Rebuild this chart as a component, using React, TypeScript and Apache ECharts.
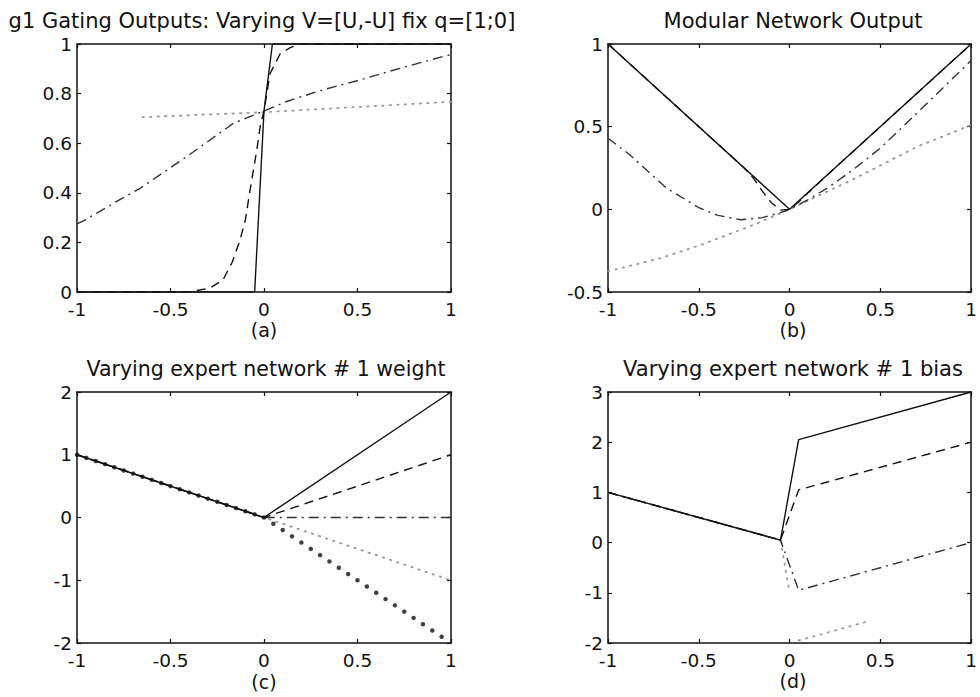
import React, { useEffect, useRef } from "react";
import * as echarts from "echarts";

// ---------- data ----------
const X_RANGE = { min: -1, max: 1, interval: 0.5 };
const Y_RANGES = [
  { min: 0, max: 1, interval: 0.2 },
  { min: -0.5, max: 1, interval: 0.5 },
  { min: -2, max: 2, interval: 1 },
  { min: -2, max: 3, interval: 1 },
];
const TITLES = [
  "g1 Gating Outputs: Varying V=[U,-U] fix q=[1;0]",
  "Modular Network Output",
  "Varying expert network # 1 weight",
  "Varying expert network # 1 bias",
];
const SUB_LABELS = ["(a)", "(b)", "(c)", "(d)"];

// (a) gating outputs
const aSolid = [[-1, 0], [-0.05, 0], [0, 0.73], [0.045, 1], [1, 1]];
const aDashed = [
  [-1, 0], [-0.4, 0], [-0.29, 0.016], [-0.22, 0.048], [-0.17, 0.12], [-0.128, 0.21],
  [-0.1, 0.29], [-0.066, 0.45], [-0.039, 0.57], [-0.02, 0.67], [0, 0.73], [0.032, 0.88],
  [0.086, 0.96], [0.14, 0.985], [0.19, 1.0], [1, 1],
];
const aDashDot = [
  [-1, 0.275], [-0.957, 0.29], [-0.8, 0.36], [-0.663, 0.418], [-0.413, 0.546],
  [-0.164, 0.68], [0, 0.73], [0.121, 0.768], [0.3, 0.812], [0.513, 0.855],
  [0.727, 0.902], [0.968, 0.952], [1, 0.957],
];
const aDotted = [[-0.65, 0.705], [0, 0.725], [1, 0.767]];

// (b) modular network output
const bSolid = [[-1, 1], [0, 0], [1, 1]];
const bDashed = [
  [-1, 1], [-0.25, 0.25], [-0.2, 0.19], [-0.15, 0.11], [-0.1, 0.04], [-0.05, -0.005],
  [0, 0], [0.05, 0.045], [0.1, 0.097], [0.2, 0.2], [1, 1],
];
const bDashDot = [
  [-1, 0.43], [-0.88, 0.33], [-0.68, 0.13], [-0.5, 0.01], [-0.4, -0.035], [-0.27, -0.063],
  [-0.15, -0.05], [-0.05, -0.02], [0, 0], [0.1, 0.057], [0.22, 0.137], [0.35, 0.24],
  [0.5, 0.37], [0.7, 0.58], [0.85, 0.74], [1, 0.9],
];
const bDotted = [
  [-1, -0.375], [-0.71, -0.295], [-0.485, -0.214], [-0.196, -0.093], [0, 0],
  [0.344, 0.178], [0.705, 0.38], [1, 0.51],
];

// (c) varying expert #1 weight
const cSolid = [[-1, 1], [0, 0], [1, 2]];
const cDashed = [[-1, 1], [0, 0], [1, 1]];
const cDashDot = [[-1, 1], [0, 0], [1, 0]];
const cDotted = [[-1, 1], [0, 0], [1, -1]];
const cHeavyDots = [
  [-1, 1], [-0.95, 0.95], [-0.9, 0.9], [-0.85, 0.85], [-0.8, 0.8], [-0.75, 0.75],
  [-0.7, 0.7], [-0.65, 0.65], [-0.6, 0.6], [-0.55, 0.55], [-0.5, 0.5], [-0.45, 0.45],
  [-0.4, 0.4], [-0.35, 0.35], [-0.3, 0.3], [-0.25, 0.25], [-0.2, 0.2], [-0.15, 0.15],
  [-0.1, 0.1], [-0.05, 0.05], [0, 0],
  [0.05, -0.1], [0.1, -0.2], [0.15, -0.3], [0.2, -0.4], [0.25, -0.5], [0.3, -0.6],
  [0.35, -0.7], [0.4, -0.8], [0.45, -0.9], [0.5, -1.0], [0.55, -1.1], [0.6, -1.2],
  [0.65, -1.3], [0.7, -1.4], [0.75, -1.5], [0.8, -1.6], [0.85, -1.7], [0.9, -1.8],
  [0.95, -1.9],
];

// (d) varying expert #1 bias
const dSolid = [[-1, 1], [-0.05, 0.05], [0.05, 2.05], [1, 3]];
const dDashed = [[-1, 1], [-0.05, 0.05], [0.05, 1.05], [1, 2]];
const dDashDot = [[-1, 1], [-0.05, 0.05], [0.05, -0.95], [1, 0]];
const dDottedUpper = [[-1, 1], [-0.05, 0.05], [0, -1.0]];
const dDottedLower = [[0.05, -1.95], [0.42, -1.58]];

// ---------- layout ----------
const GRIDS = [
  { left: 77, top: 44, width: 374, height: 248 },
  { left: 608, top: 44, width: 370, height: 248 },
  { left: 77, top: 392, width: 374, height: 251 },
  { left: 608, top: 392, width: 370, height: 251 },
];
const TITLE_Y = [20.5, 20.5, 369, 369];
const SUB_Y = [330, 330, 682, 681];

const FONT = '"DejaVu Sans", "Liberation Sans", sans-serif';
const BLACK = "#111";
const GRAY = "#9a9a9a";

type Style = "solid" | "dashed" | "dashdot" | "dotted";
const dashOf = (s: Style): any => {
  if (s === "dashed") return [9, 6];
  if (s === "dashdot") return [10, 5, 2, 5];
  if (s === "dotted") return [1.5, 6];
  return "solid";
};

function lineSeries(grid: number, data: number[][], style: Style, z = 2): any {
  return {
    type: "line",
    xAxisIndex: grid * 2,
    yAxisIndex: grid * 2,
    data,
    symbol: "none",
    showSymbol: false,
    z,
    silent: true,
    lineStyle: {
      color: style === "dotted" ? GRAY : style === "dashdot" ? "#333" : BLACK,
      width: style === "dotted" ? 1.8 : 1.4,
      type: dashOf(style),
      cap: style === "dotted" ? "round" : "butt",
    },
  };
}

function buildOption(): any {
  const xAxis: any[] = [];
  const yAxis: any[] = [];
  GRIDS.forEach((_, i) => {
    const common = {
      gridIndex: i,
      type: "value",
      axisLine: { show: true, onZero: false, lineStyle: { color: BLACK, width: 1.5 } },
      axisTick: { show: true, inside: true, length: 4, lineStyle: { color: BLACK, width: 1.2 } },
      splitLine: { show: false },
    };
    const labelStyle = { color: BLACK, fontFamily: FONT, fontSize: 18.5, lineHeight: 14 };
    xAxis.push({
      ...common,
      ...X_RANGE,
      position: "bottom",
      axisLabel: { ...labelStyle, margin: 10 },
    });
    xAxis.push({ ...common, ...X_RANGE, position: "top", axisLabel: { show: false } });
    yAxis.push({
      ...common,
      ...Y_RANGES[i],
      position: "left",
      axisLabel: { ...labelStyle, margin: 5 },
    });
    yAxis.push({ ...common, ...Y_RANGES[i], position: "right", axisLabel: { show: false } });
  });

  const series: any[] = [
    lineSeries(0, aDotted, "dotted"),
    lineSeries(0, aDashDot, "dashdot"),
    lineSeries(0, aDashed, "dashed"),
    lineSeries(0, aSolid, "solid", 3),

    lineSeries(1, bDotted, "dotted"),
    lineSeries(1, bDashDot, "dashdot"),
    lineSeries(1, bDashed, "dashed"),
    lineSeries(1, bSolid, "solid", 3),

    lineSeries(2, cDotted, "dotted"),
    lineSeries(2, cDashDot, "dashdot"),
    lineSeries(2, cDashed, "dashed"),
    lineSeries(2, cSolid, "solid", 3),
    {
      type: "scatter",
      xAxisIndex: 4,
      yAxisIndex: 4,
      data: cHeavyDots,
      symbol: "circle",
      symbolSize: 4.5,
      silent: true,
      z: 4,
      itemStyle: { color: BLACK },
    },

    lineSeries(3, dDottedUpper, "dotted"),
    lineSeries(3, dDottedLower, "dotted"),
    lineSeries(3, dDashDot, "dashdot"),
    lineSeries(3, dDashed, "dashed"),
    lineSeries(3, dSolid, "solid", 3),
  ];

  const graphic: any[] = [];
  GRIDS.forEach((g, i) => {
    const cx = g.left + g.width / 2;
    graphic.push({
      type: "text",
      silent: true,
      style: {
        text: TITLES[i],
        x: i === 0 ? 262 : i === 2 ? cx + 2 : cx,
        y: TITLE_Y[i],
        fill: BLACK,
        font: `${i === 2 ? 20.5 : 21}px ${FONT}`,
        textAlign: "center",
        align: "center",
        textVerticalAlign: "middle",
        verticalAlign: "middle",
      },
    });
    graphic.push({
      type: "text",
      silent: true,
      style: {
        text: SUB_LABELS[i],
        x: cx,
        y: SUB_Y[i],
        fill: BLACK,
        font: `19px ${FONT}`,
        lineHeight: 14,
        textAlign: "center",
        align: "center",
        textVerticalAlign: "middle",
        verticalAlign: "middle",
      },
    });
  });

  return {
    animation: false,
    backgroundColor: "#ffffff",
    grid: GRIDS.map((g) => ({ ...g, containLabel: false })),
    xAxis,
    yAxis,
    series,
    graphic,
  };
}

export default function App() {
  const ref = useRef<HTMLDivElement>(null);
  useEffect(() => {
    if (!ref.current) return;
    const chart = echarts.init(ref.current, undefined, { renderer: "svg" });
    chart.setOption(buildOption());
    return () => chart.dispose();
  }, []);
  return (
    <div
      ref={ref}
      style={{ position: "fixed", left: 0, top: 0, width: 980, height: 697, background: "#fff" }}
    />
  );
}
